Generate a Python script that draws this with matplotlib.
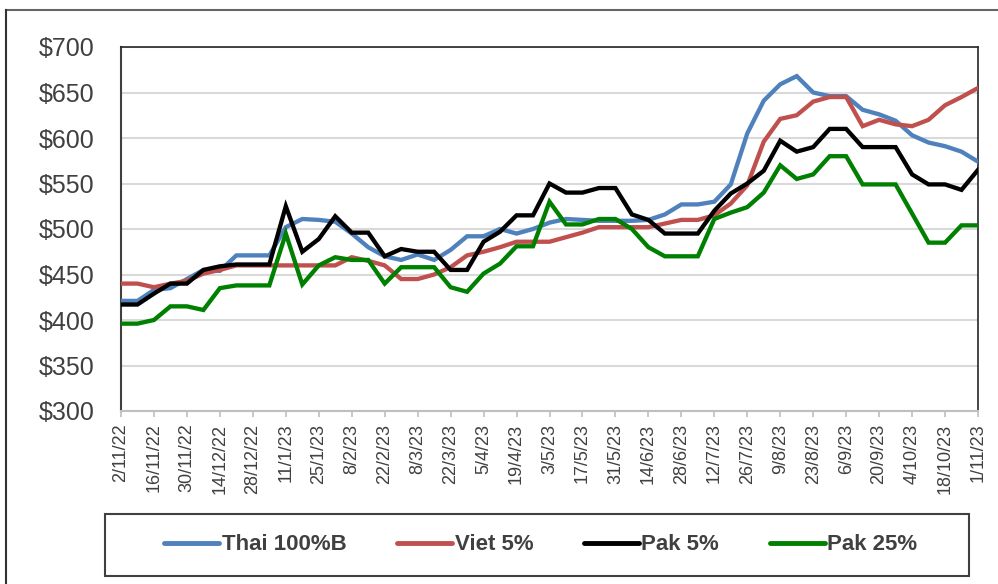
import matplotlib
matplotlib.use("Agg")
import matplotlib.pyplot as plt
from matplotlib.lines import Line2D
from matplotlib.patches import Rectangle

weeks = ["2/11/22", "9/11/22", "16/11/22", "23/11/22", "30/11/22", "7/12/22", "14/12/22",
         "21/12/22", "28/12/22", "4/1/23", "11/1/23", "18/1/23", "25/1/23", "1/2/23",
         "8/2/23", "15/2/23", "22/2/23", "1/3/23", "8/3/23", "15/3/23", "22/3/23",
         "29/3/23", "5/4/23", "12/4/23", "19/4/23", "26/4/23", "3/5/23", "10/5/23",
         "17/5/23", "24/5/23", "31/5/23", "7/6/23", "14/6/23", "21/6/23", "28/6/23",
         "5/7/23", "12/7/23", "19/7/23", "26/7/23", "2/8/23", "9/8/23", "16/8/23",
         "23/8/23", "30/8/23", "6/9/23", "13/9/23", "20/9/23", "27/9/23", "4/10/23",
         "11/10/23", "18/10/23", "25/10/23", "1/11/23"]

thai_100b = [421, 421, 433, 435, 445, 455, 454, 471, 471, 471, 502, 511, 510, 508, 495,
             480, 470, 466, 472, 466, 477, 492, 492, 500, 495, 500, 507, 511, 510, 509,
             509, 509, 510, 516, 527, 527, 530, 549, 605, 641, 659, 668, 650, 646, 646,
             631, 626, 619, 603, 595, 591, 585, 574]
viet_5 = [440, 440, 436, 440, 443, 451, 455, 460, 460, 460, 460, 460, 460, 460, 469,
          465, 460, 445, 445, 450, 458, 471, 475, 480, 486, 486, 486, 491, 496, 502,
          502, 502, 502, 506, 510, 510, 515, 528, 548, 596, 621, 625, 640, 645, 645,
          613, 620, 615, 613, 620, 636, 645, 655]
pak_5 = [417, 417, 429, 440, 440, 455, 459, 461, 461, 461, 525, 475, 489, 514, 496,
         496, 470, 478, 475, 475, 455, 455, 486, 497, 515, 515, 550, 540, 540, 545,
         545, 516, 510, 495, 495, 495, 520, 539, 550, 564, 597, 585, 590, 610, 610,
         590, 590, 590, 560, 549, 549, 543, 565]
pak_25 = [396, 396, 400, 415, 415, 411, 435, 438, 438, 438, 495, 439, 460, 469, 466,
          466, 440, 458, 458, 458, 436, 431, 451, 462, 481, 481, 530, 505, 505, 511,
          511, 500, 480, 470, 470, 470, 511, 518, 524, 540, 570, 555, 560, 580, 580,
          549, 549, 549, 517, 485, 485, 504, 504]

series_names = ["Thai 100%B", "Viet 5%", "Pak 5%", "Pak 25%"]
series_colors = ["#4F81BD", "#C0504D", "#000000", "#008000"]
y_ticks = [300, 350, 400, 450, 500, 550, 600, 650, 700]

W, H = 998, 584
fig = plt.figure(figsize=(W / 100, H / 100), dpi=100)
plt.rcParams['font.family'] = ['Liberation Sans', 'DejaVu Sans']

ax = fig.add_axes([121 / W, 1 - 411 / H, 857 / W, 364 / H])
x = list(range(len(weeks)))
for vals, name, col in zip([thai_100b, viet_5, pak_5, pak_25], series_names, series_colors):
    ax.plot(x, vals, color=col, lw=3.1, label=name, solid_joinstyle='miter', zorder=3)

ax.set_xlim(0, len(weeks) - 1)
ax.set_ylim(300, 700)
ax.set_yticks(y_ticks)
ax.set_yticklabels([f"${v}" for v in y_ticks], fontsize=18, color="#404040")
ax.tick_params(axis='y', length=0, pad=19)
ax.set_xticks(x[::2])
ax.set_xticklabels(weeks[::2], rotation=90, fontsize=13, color="#404040")
ax.tick_params(axis='x', length=4, width=1.2, color="#bfbfbf", pad=5)
ax.grid(axis='y', color="#d9d9d9", lw=1.5, zorder=0)
ax.set_axisbelow(True)
for s in ['top', 'right']:
    ax.spines[s].set_color("#262626")
    ax.spines[s].set_linewidth(1.2)
ax.spines['left'].set_color("#404040")
ax.spines['left'].set_linewidth(1.5)
ax.spines['bottom'].set_color("#bfbfbf")
ax.spines['bottom'].set_linewidth(1.5)

# outer chart frame (cropped at right and bottom)
fig.add_artist(Line2D([6 / W, 1.0], [1 - 10 / H, 1 - 10 / H], color="#666666", lw=1.5,
                      transform=fig.transFigure))
fig.add_artist(Line2D([6 / W, 6 / W], [1 - 10 / H, 0.0], color="#333333", lw=1.5,
                      transform=fig.transFigure))

# legend box
fig.add_artist(Rectangle((105 / W, 1 - 576 / H), (969 - 105) / W, (576 - 514) / H,
                         transform=fig.transFigure, fill=False, edgecolor="#404040", lw=1.5))
handles, labels = ax.get_legend_handles_labels()
leg = fig.legend(handles, labels, loc='center', bbox_to_anchor=(541 / W, 1 - 545 / H),
                 ncol=4, frameon=False, prop={'weight': 'bold', 'size': 16},
                 handlelength=2.45, handletextpad=0.12, columnspacing=2.3)
for t in leg.get_texts():
    t.set_color("#404040")
for h in leg.get_lines():
    h.set_linewidth(3.5)
    h.set_solid_capstyle('round')

fig.savefig("out.png", dpi=100)
